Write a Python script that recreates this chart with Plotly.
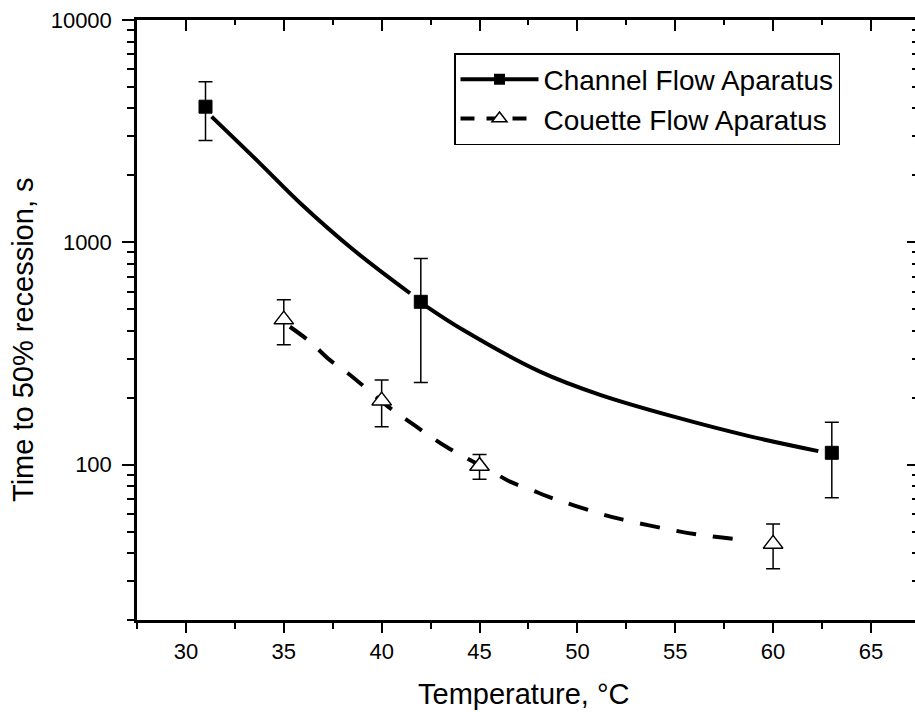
import plotly.graph_objects as go
import math

# ---- data ----
channel_T = [31, 42, 63]
channel_t = [4074, 540, 113]
channel_err = [1206, 306, 42]

couette_T = [35, 40, 45, 60]
couette_t = [449, 194, 98.5, 44]
couette_err = [103, 46, 12.5, 10]

# fitted curves (None = gap around a marker)
channel_fit_T = [31.31, 33.78, 35.83, 38.57, 41.45, None, 42.30, 44.17, 48.09, 51.16, 55.07, 58.82, 62.31]
channel_fit_t = [3675, 2266, 1503, 923, 590, None, 514, 403, 262, 206, 163, 134, 115]

couette_fit_T = [35.31, 36.34, 37.36, 38.29, 40.34, 41.28, 42.38, 43.32, 45.79, 46.56,
                 47.66, 48.51, 51.41, 52.43, 54.39, 56.26, 58.22]
couette_fit_t = [417, 357, 295, 257, 182, 159, 136, 120, 91.4, 83.8,
                 76.9, 71.7, 59.3, 56.3, 51.7, 48.3, 46.1]

x_range = [27.5, 67.25]
y_min, y_max = 20, 10000
y_major = [100, 1000, 10000]
y_major_text = ["100", "1000", "10000"]
y_minor = [m * 10 ** d for d in (1, 2, 3) for m in range(2, 10)]
x_title = "Temperature, °C"
y_title = "Time to 50% recession, s"
names = ["Channel Flow Aparatus", "Couette Flow Aparatus"]

FONT = "Liberation Sans, Arial, Helvetica, sans-serif"
BLACK = "#000000"

fig = go.Figure()

# fit curves
fig.add_trace(go.Scatter(x=channel_fit_T, y=channel_fit_t, mode="lines",
                         line=dict(color=BLACK, width=4, shape="spline", smoothing=1.0),
                         showlegend=False, connectgaps=False, hoverinfo="skip"))
fig.add_trace(go.Scatter(x=couette_fit_T, y=couette_fit_t, mode="lines",
                         line=dict(color=BLACK, width=4, dash="20px,17px",
                                   shape="spline", smoothing=1.0),
                         showlegend=False, hoverinfo="skip"))

# data points with error bars
fig.add_trace(go.Scatter(x=channel_T, y=channel_t, mode="markers",
                         marker=dict(symbol="square", size=13, color=BLACK,
                                     line=dict(color=BLACK, width=1)),
                         error_y=dict(type="data", array=channel_err, color=BLACK,
                                      thickness=1.5, width=7),
                         showlegend=False))
fig.add_trace(go.Scatter(x=couette_T, y=couette_t, mode="markers",
                         marker=dict(symbol="triangle-up", size=17, color="white",
                                     line=dict(color=BLACK, width=1.5)),
                         error_y=dict(type="data", array=couette_err, color=BLACK,
                                      thickness=1.5, width=7),
                         showlegend=False))

# legend entries
fig.add_trace(go.Scatter(x=[None], y=[None], mode="lines+markers", name=names[0],
                         line=dict(color=BLACK, width=4),
                         marker=dict(symbol="square", size=11, color=BLACK)))
fig.add_trace(go.Scatter(x=[None], y=[None], mode="lines+markers", name=names[1],
                         line=dict(color=BLACK, width=4, dash="14px,12px"),
                         marker=dict(symbol="triangle-up", size=13, color="white",
                                     line=dict(color=BLACK, width=1.5))))

# invisible trace to activate the mirror axes
fig.add_trace(go.Scatter(x=[None], y=[None], xaxis="x2", yaxis="y2",
                         showlegend=False, hoverinfo="skip"))

logr = [math.log10(y_min), math.log10(y_max)]

fig.update_layout(
    width=915, height=712,
    margin=dict(l=137, r=0, t=20, b=92),
    paper_bgcolor="white", plot_bgcolor="white",
    font=dict(family=FONT, color=BLACK, size=21),
    showlegend=True,
    legend=dict(x=(454 - 137) / 778, y=(620 - 53) / 600, xanchor="left", yanchor="top",
                bgcolor="white", bordercolor=BLACK, borderwidth=1.5,
                font=dict(family=FONT, size=28, color=BLACK),
                itemwidth=78, tracegroupgap=0),
    xaxis=dict(range=x_range, showgrid=False, zeroline=False,
               showline=True, linecolor=BLACK, linewidth=2.5,
               ticks="outside", ticklen=10, tickwidth=2, tickcolor=BLACK,
               tick0=0, dtick=5,
               minor=dict(ticks="outside", ticklen=6, tickwidth=2, tickcolor=BLACK,
                          tick0=0, dtick=2.5),
               tickfont=dict(size=22, family=FONT)),
    xaxis2=dict(range=x_range, overlaying="x", side="top", showgrid=False, zeroline=False,
                showline=True, linecolor=BLACK, linewidth=2.5,
                ticks="inside", ticklen=11, tickwidth=2, tickcolor=BLACK,
                tick0=0, dtick=5, showticklabels=False,
                minor=dict(ticks="inside", ticklen=5, tickwidth=2, tickcolor=BLACK,
                           tick0=0, dtick=2.5)),
    yaxis=dict(type="log", range=logr, showgrid=False, zeroline=False,
               showline=True, linecolor=BLACK, linewidth=2.5,
               ticks="outside", ticklen=12, tickwidth=2, tickcolor=BLACK,
               tickmode="array", tickvals=y_major, ticktext=y_major_text,
               ticklabelstandoff=6,
               minor=dict(ticks="outside", ticklen=7, tickwidth=2, tickcolor=BLACK,
                          tickmode="array", tickvals=y_minor),
               tickfont=dict(size=22, family=FONT)),
    yaxis2=dict(type="log", range=logr, overlaying="y", side="right",
                showgrid=False, zeroline=False, showline=False,
                ticks="inside", ticklen=8, tickwidth=2, tickcolor=BLACK,
                tickmode="array", tickvals=y_major, showticklabels=False,
                minor=dict(ticks="inside", ticklen=3, tickwidth=2, tickcolor=BLACK,
                           tickmode="array", tickvals=y_minor)),
    annotations=[
        dict(text=x_title, xref="paper", yref="paper", x=(523 - 137) / 778,
             y=(620 - 694) / 600, xanchor="center", yanchor="middle",
             showarrow=False, font=dict(size=29, family=FONT, color=BLACK)),
        dict(text=y_title, xref="paper", yref="paper", x=(23 - 137) / 778,
             y=(620 - 340) / 600, xanchor="center", yanchor="middle", textangle=-90,
             showarrow=False, font=dict(size=29, family=FONT, color=BLACK)),
    ],
)

fig.write_html("out.html")
